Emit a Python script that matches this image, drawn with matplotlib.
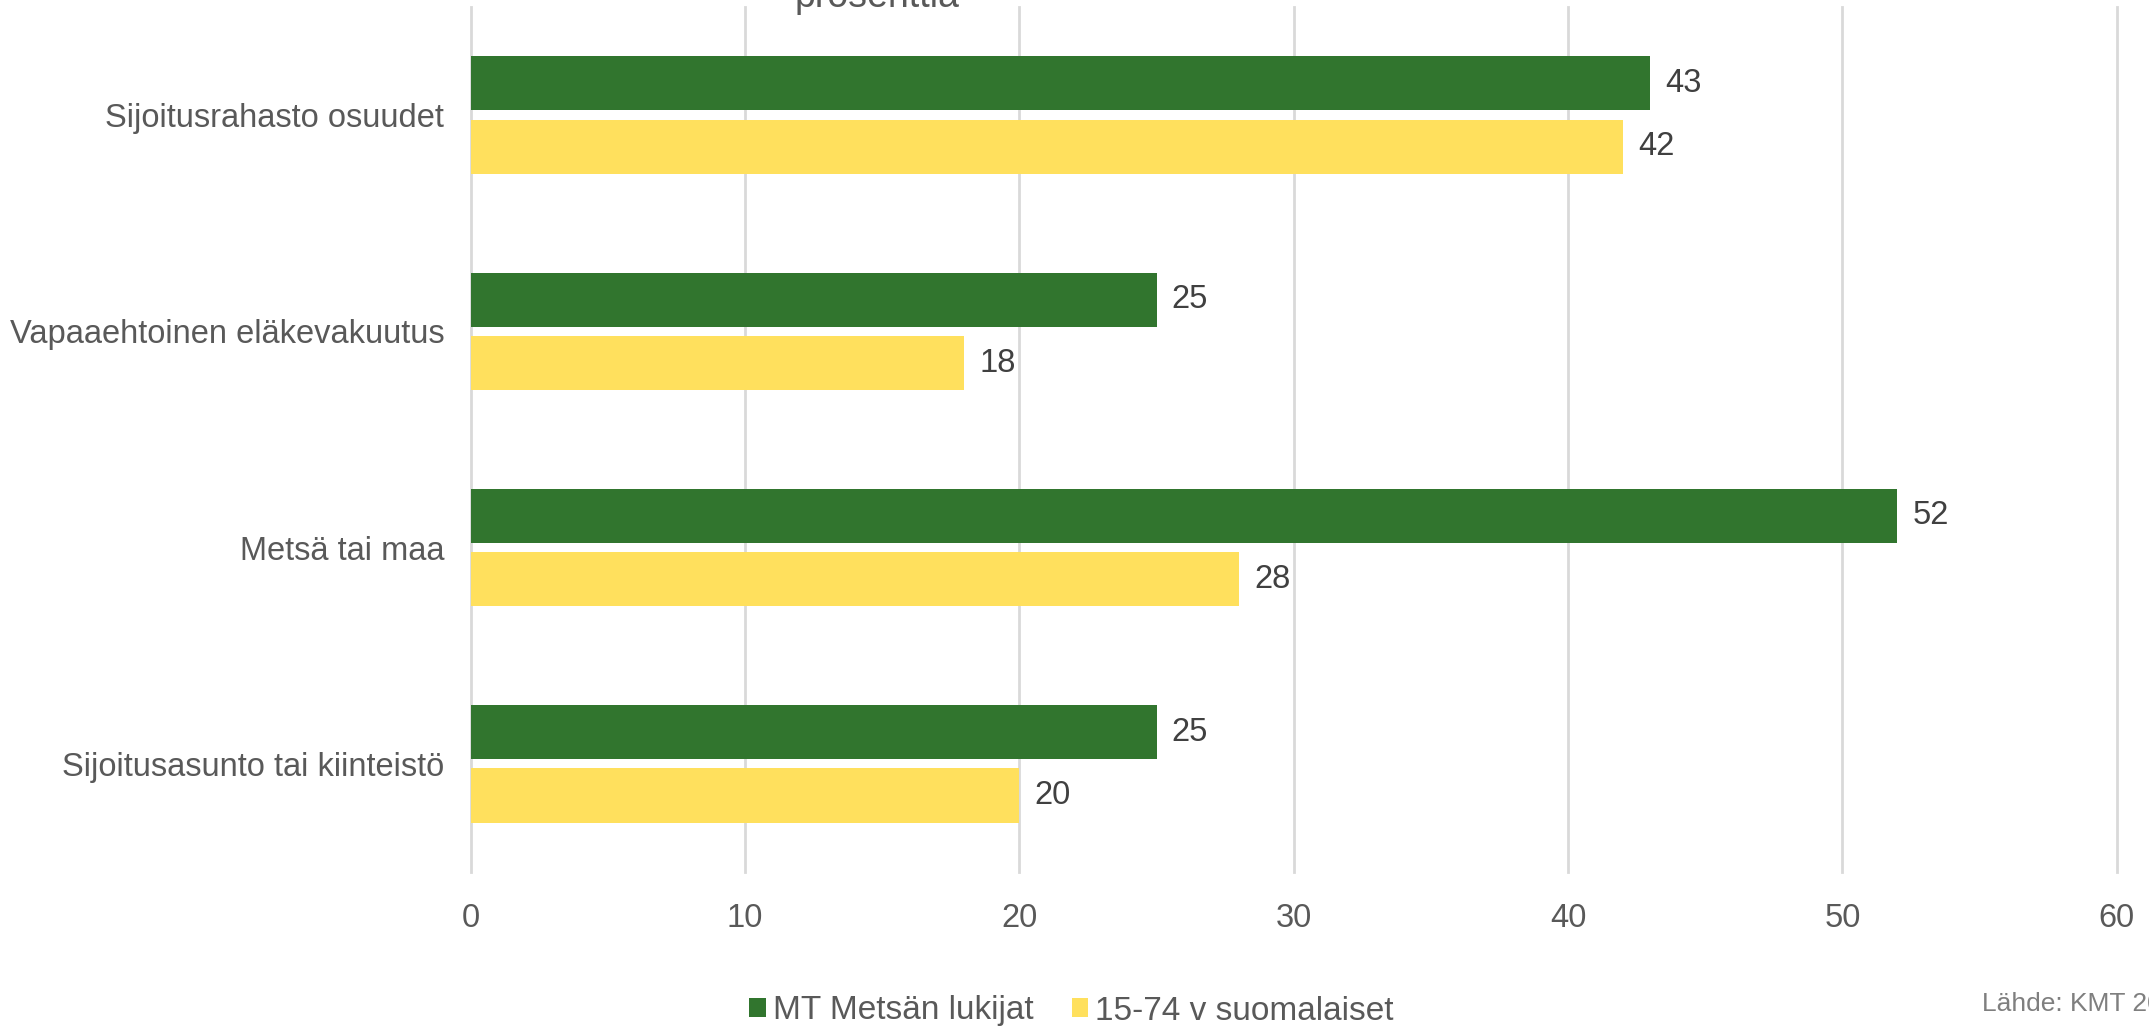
import matplotlib.pyplot as plt
import numpy as np

plt.rcParams['font.family'] = ['Liberation Sans', 'DejaVu Sans']

# data
categories = ['Sijoitusrahasto osuudet', 'Vapaaehtoinen eläkevakuutus',
              'Metsä tai maa', 'Sijoitusasunto tai kiinteistö']
mt_lukijat = [43, 25, 52, 25]
suomalaiset = [42, 18, 28, 20]
series_names = ['MT Metsän lukijat', '15-74 v suomalaiset']
xticks = [0, 10, 20, 30, 40, 50, 60]

green = '#31752E'
yellow = '#FFE05D'
grey_txt = '#595959'
val_txt = '#404040'

fig = plt.figure(figsize=(21.49, 10.28), dpi=100)
ax = fig.add_axes([0.219, 0.1518, 0.766, 0.8414])

y = np.arange(len(categories))
h = 0.25
off = 0.1465
b1 = ax.barh(y - off, mt_lukijat, height=h, color=green, label=series_names[0], zorder=3)
b2 = ax.barh(y + off, suomalaiset, height=h, color=yellow, label=series_names[1], zorder=3)

for bars, vals in ((b1, mt_lukijat), (b2, suomalaiset)):
    for bar, v in zip(bars, vals):
        ax.annotate(str(v), (v, bar.get_y() + bar.get_height() / 2),
                    xytext=(11, 0), textcoords='offset points',
                    va='center', ha='left', fontsize=23.5, color=val_txt)

ax.set_xlim(0, 60)
ax.set_ylim(3.5, -0.5)
ax.set_xticks(xticks)
ax.set_yticks(y)
ax.set_yticklabels(categories)
ax.tick_params(axis='both', length=0, labelsize=23.5, colors=grey_txt)
ax.tick_params(axis='x', pad=22)
ax.tick_params(axis='y', pad=19)
ax.grid(axis='x', color='#D9D9D9', linewidth=2, zorder=0)
for gl in ax.get_xgridlines():
    gl.set_clip_on(False)
for s in ax.spines.values():
    s.set_visible(False)

# title cut off at the top edge
fig.text(877 / 2149, 1 - 7 / 1028, 'prosenttia', ha='center', va='baseline',
         fontsize=27, color=grey_txt)

fig.legend(loc='center', bbox_to_anchor=(0.4985, 1 - 1011 / 1028), ncol=2, frameon=False,
           fontsize=24, handlelength=0.5, handleheight=0.51, handletextpad=0.2,
           columnspacing=1.15, labelcolor=grey_txt)

fig.text(1982 / 2149, 1 - 1011 / 1028, 'Lähde: KMT 2019', ha='left', va='baseline',
         fontsize=19, color='#7F7F7F')

fig.savefig('out.png', dpi=100)
